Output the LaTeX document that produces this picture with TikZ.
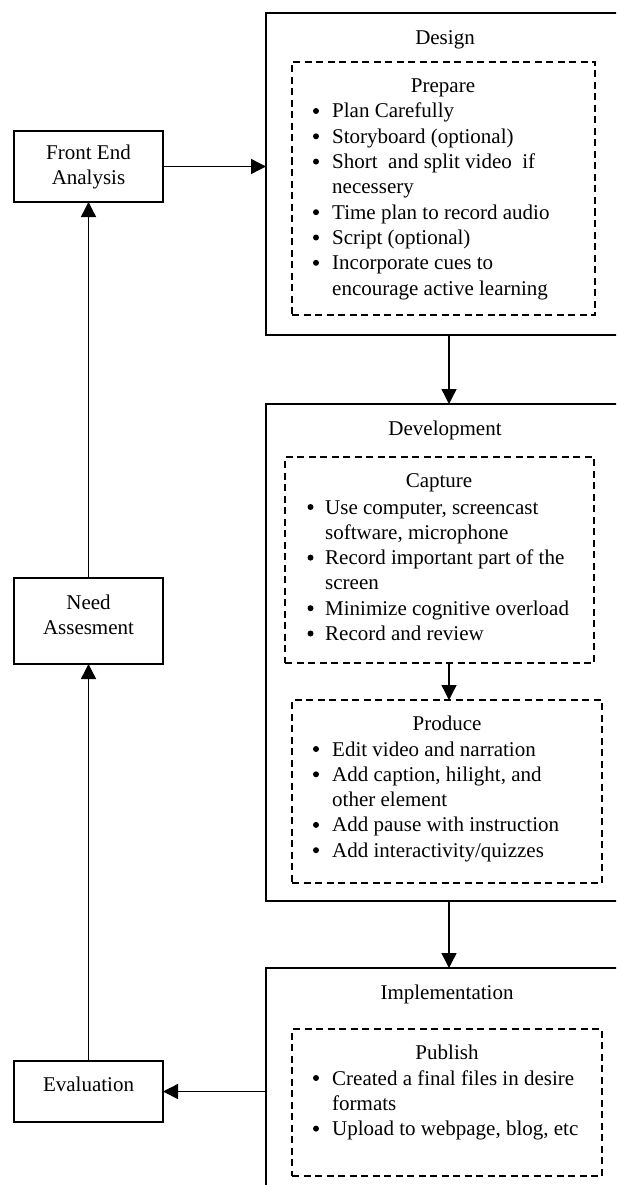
\documentclass[tikz,border=0pt]{standalone}
\usepackage{fontspec}
\setmainfont{Liberation Serif}
\usetikzlibrary{arrows.meta}
\newcommand{\myind}{\hspace*{20pt}}
\begin{document}
\begin{tikzpicture}[x=1pt,y=-1pt,
  solidbox/.style={draw,line width=1.6pt,inner sep=0pt,outer sep=0pt,anchor=north west},
  dashbox/.style={draw,line width=1.4pt,dash pattern=on 7pt off 4.5pt,inner sep=0pt,outer sep=0pt,anchor=north west},
  txt/.style={inner sep=0pt,anchor=base,font=\fontsize{21}{25.3}\selectfont},
  lst/.style={inner sep=0pt,anchor=base west,font=\fontsize{21}{25.3}\selectfont},
  arr/.style={line width=1.4pt,-{Triangle[length=15pt,width=15pt]}},
  dot/.style={fill=black}]
\useasboundingbox (0,0) rectangle (616,1185);
\clip (0,0) rectangle (616,1185);
\coordinate (ax) at (449,0);

% left column boxes
\node[solidbox,minimum width=149pt,minimum height=71pt] (fea) at (14,131) {};
\node[solidbox,minimum width=149pt,minimum height=86pt] (need) at (14,578) {};
\node[solidbox,minimum width=149pt,minimum height=61pt] (eval) at (14,1061) {};
\node[txt] (feat1) at (88.5,160) {Front End};
\node[txt] (feat2) at (88.5,185) {Analysis};
\node[txt] (needt1) at (88.5,609) {Need};
\node[txt] (needt2) at (88.5,634) {Assesment};
\node[txt] (evalt) at (88.5,1091) {Evaluation};

% Design
\node[solidbox,minimum width=358pt,minimum height=322pt] (design) at (266,13) {};
\node[txt] (designt) at (445,45) {Design};
\node[dashbox,minimum width=303pt,minimum height=253pt] (prepare) at (292,62) {};
\node[txt] (preparet) at (443,93) {Prepare};
\node[lst] (preparel) at (312,118) {\begin{tabular}[t]{@{}l@{}}
\myind Plan Carefully\\
\myind Storyboard (optional)\\
\myind Short\ \ and split video\ \ if\\
\myind necessery\\
\myind Time plan to record audio\\
\myind Script (optional)\\
\myind Incorporate cues to\\
\myind encourage active learning
\end{tabular}};
\foreach \k in {0,1,2,4,5,6} \fill[dot] (316,{118+25.3*\k-7}) circle (3pt);

% Development
\node[solidbox,minimum width=358pt,minimum height=497pt] (dev) at (266,404) {};
\node[txt] (devt) at (445,435) {Development};
\node[dashbox,minimum width=309pt,minimum height=206pt] (capture) at (285,457) {};
\node[txt] (capturet) at (439,487) {Capture};
\node[lst] (capturel) at (305,514) {\begin{tabular}[t]{@{}l@{}}
\myind Use computer, screencast\\
\myind software, microphone\\
\myind Record important part of the\\
\myind screen\\
\myind Minimize cognitive overload\\
\myind Record and review
\end{tabular}};
\foreach \k in {0,2,4,5} \fill[dot] (310.5,{514+25.3*\k-7}) circle (3pt);
\node[dashbox,minimum width=310pt,minimum height=183pt] (produce) at (292,700) {};
\node[txt] (producet) at (447,730) {Produce};
\node[lst] (producel) at (312,756) {\begin{tabular}[t]{@{}l@{}}
\myind Edit video and narration\\
\myind Add caption, hilight, and\\
\myind other element\\
\myind Add pause with instruction\\
\myind Add interactivity/quizzes
\end{tabular}};
\foreach \k in {0,1,3,4} \fill[dot] (316,{756+25.3*\k-7}) circle (3pt);

% Implementation
\node[solidbox,minimum width=358pt,minimum height=240pt] (impl) at (266,968) {};
\node[txt] (implt) at (447,999) {Implementation};
\node[dashbox,minimum width=310pt,minimum height=147pt] (publish) at (292,1029) {};
\node[txt] (publisht) at (447,1059) {Publish};
\node[lst] (publishl) at (312,1085) {\begin{tabular}[t]{@{}l@{}}
\myind Created a final files in desire\\
\myind formats\\
\myind Upload to webpage, blog, etc
\end{tabular}};
\foreach \k in {0,2} \fill[dot] (316,{1085+25.3*\k-7}) circle (3pt);

% connectors
\draw[arr] (fea.east) -- (fea.east -| design.west);
\draw[arr] (need.north) -- (fea.south);
\draw[arr] (eval.north) -- (need.south);
\draw[arr] (design.south -| ax) -- (dev.north -| ax);
\draw[arr] (capture.south -| ax) -- (produce.north -| ax);
\draw[arr] (dev.south -| ax) -- (impl.north -| ax);
\draw[arr] (impl.west |- eval.east) -- (eval.east);
\end{tikzpicture}
\end{document}
